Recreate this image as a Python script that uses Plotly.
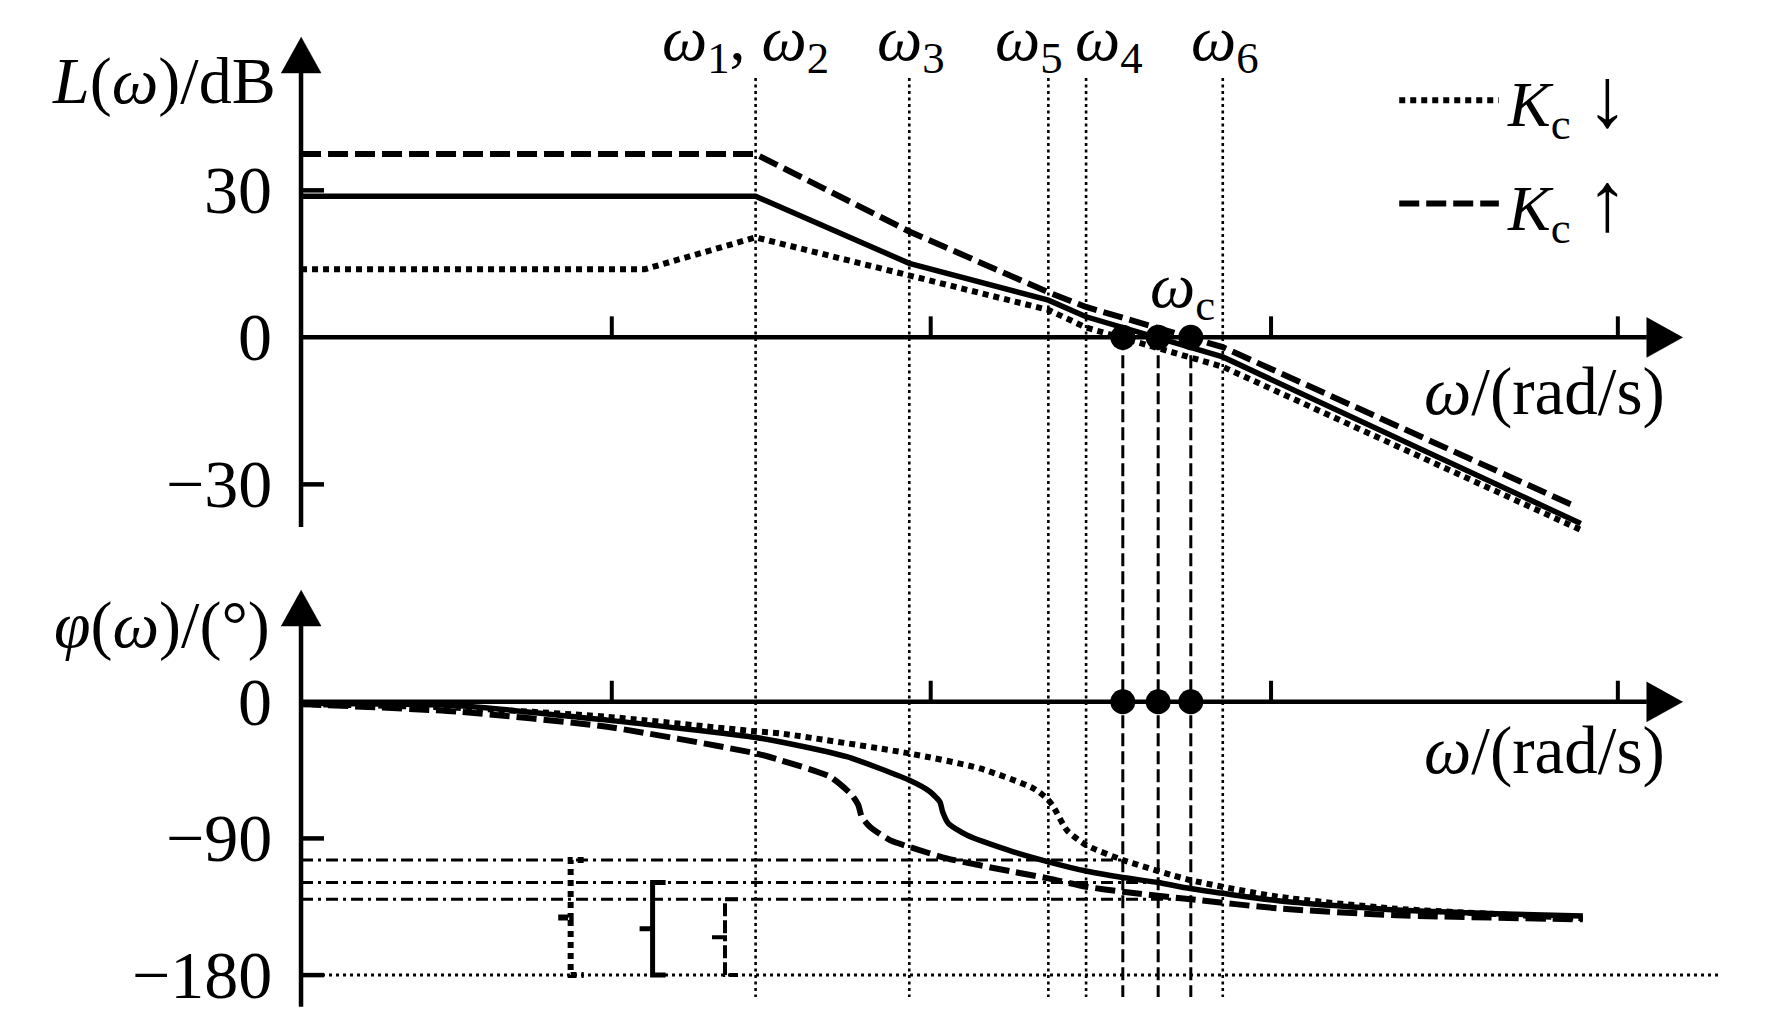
import plotly.graph_objects as go

# ======================= DATA =======================
# horizontal position = log10(omega) (0 <-> 1 rad/s)
x_ticks = [-0.938, 0.0, 1.001, 2.021]

omega_break_labels = ["<i>ω</i><sub>1</sub>, <i>ω</i><sub>2</sub>", "<i>ω</i><sub>3</sub>",
                      "<i>ω</i><sub>5</sub>", "<i>ω</i><sub>4</sub>", "<i>ω</i><sub>6</sub>"]
omega_breaks = [-0.515, -0.063, 0.346, 0.457, 0.859]
omega_c = [0.565, 0.669, 0.765]          # crossover: Kc down, nominal, Kc up

# magnitude asymptotes L(omega) in dB
mag_x_nominal = [-1.852, -0.515, -0.063, 0.346, 0.457, 0.859, 1.912]
mag_nominal = [28.8, 28.8, 15.1, 7.6, 4.2, -4.0, -38.0]
mag_x_up = [-1.852, -0.515, -0.063, 0.346, 0.457, 0.859, 1.887]
mag_kc_up = [37.4, 37.4, 21.6, 9.2, 6.2, -2.0, -34.2]
mag_x_down = [-1.852, -0.841, -0.515, -0.063, 0.346, 0.457, 0.859, 1.912]
mag_kc_down = [13.9, 13.9, 20.4, 12.7, 5.6, 2.0, -6.0, -39.3]

# phase curves phi(omega) in degrees
ph_x_nominal = [-1.852, -1.389, -0.952, -0.515, -0.444, -0.247, -0.064, -0.002, 0.027, 0.035, 0.052,
                0.106, 0.243, 0.346, 0.457, 0.565, 0.669, 0.763, 1.022, 1.357, 1.692, 1.918]
ph_nominal = [-1.0, -2.6, -12.1, -23.5, -26.3, -36.2, -51.6, -59.3, -65.9, -72.4, -80.1,
              -87.8, -98.8, -105.4, -111.5, -115.8, -119.0, -123.0, -131.0, -137.0, -139.8, -141.1]
ph_x_down = [-1.852, -1.389, -0.952, -0.515, -0.444, -0.064, 0.145, 0.302, 0.341, 0.361,
             0.400, 0.457, 0.565, 0.763, 1.022, 1.357, 1.918]
ph_kc_down = [-1.5, -4.0, -9.9, -19.5, -20.8, -34.0, -43.9, -57.0, -63.6, -69.1,
              -84.5, -94.4, -104.2, -117.4, -128.4, -136.1, -142.5]
ph_x_up = [-1.852, -1.389, -0.952, -0.515, -0.444, -0.296, -0.232, -0.213, -0.203, -0.179,
           -0.120, -0.064, 0.047, 0.243, 0.346, 0.457, 0.565, 0.765, 1.022, 1.357, 1.918]
ph_kc_up = [-1.5, -6.6, -16.5, -34.0, -38.4, -49.4, -61.4, -68.0, -75.7, -82.3,
            -91.1, -95.5, -103.1, -112.0, -116.3, -121.8, -125.1, -130.1, -136.1, -140.5, -143.3]

phase_at_wc = [-104.2, -119.0, -130.1]   # Kc down, nominal, Kc up
margin_bracket_x = [-1.059, -0.818, -0.605]
phase_limit = -180
phase_limit_end = 2.318

mag_tick_vals = [30, -30]
mag_label_vals = [30, 0, -30]
mag_label_text = ["30", "0", "−30"]
ph_tick_vals = [-90, -180]
ph_label_vals = [0, -90, -180]
ph_label_text = ["0", "−90", "−180"]

# ======================= LAYOUT CONSTANTS =======================
W, H = 1772, 1017
X_RANGE = [-2.7374, 2.4744]
MAG_RANGE = [-138.69, 68.84]
PH_RANGE = [-207.6, 462.1]
UX = (X_RANGE[1] - X_RANGE[0]) / W
UL = (MAG_RANGE[1] - MAG_RANGE[0]) / H
UP = (PH_RANGE[1] - PH_RANGE[0]) / H

AX_X = -1.852          # vertical axes position
X_END = 2.212          # arrow tip of horizontal axes
MAG_AX = [-38.7, 61.3]
PH_AX = [-200.8, 73.6]
VLINE_TOP, VLINE_BOT = 52.9, -134.6
ARROW_LEN, ARROW_HALF = 36, 20
FONT = "Liberation Serif"
K = "black"

fig = go.Figure()


def add_line(x, y, yaxis="y", width=3.0, dash="solid", shape="linear"):
    fig.add_trace(go.Scatter(x=x, y=y, mode="lines", yaxis=yaxis, hoverinfo="skip",
                             line=dict(color=K, width=width, dash=dash, shape=shape,
                                       smoothing=0.6 if shape == "spline" else None)))


def add_poly(x, y, yaxis="y"):
    fig.add_trace(go.Scatter(x=x, y=y, mode="lines", yaxis=yaxis, fill="toself",
                             fillcolor=K, line=dict(color=K, width=0.5), hoverinfo="skip"))


def axes(yaxis, ay_range, uy):
    add_line([AX_X, AX_X], [ay_range[0], ay_range[1] - ARROW_LEN * uy], yaxis, 4.5)
    add_poly([AX_X - ARROW_HALF * UX, AX_X + ARROW_HALF * UX, AX_X],
             [ay_range[1] - ARROW_LEN * uy, ay_range[1] - ARROW_LEN * uy, ay_range[1]], yaxis)
    add_line([AX_X, X_END - ARROW_LEN * UX], [0, 0], yaxis, 4.5)
    add_poly([X_END - ARROW_LEN * UX, X_END - ARROW_LEN * UX, X_END],
             [ARROW_HALF * uy, -ARROW_HALF * uy, 0], yaxis)
    for t in x_ticks:
        add_line([t, t], [0, 21 * uy], yaxis, 4)


axes("y", MAG_AX, UL)
axes("y2", PH_AX, UP)
for v in mag_tick_vals:
    add_line([AX_X, AX_X + 23 * UX], [v, v], "y", 4.5)
for v in ph_tick_vals:
    add_line([AX_X, AX_X + 23 * UX], [v, v], "y2", 4.5)

# reference lines
for xb in omega_breaks:
    add_line([xb, xb], [VLINE_TOP, VLINE_BOT], "y", 2.6, "3px,3.5px")
for xc in omega_c:
    add_line([xc, xc], [0, VLINE_BOT], "y", 3, "13px,5px")
for xc, pv in zip(omega_c, phase_at_wc):
    add_line([AX_X, xc], [pv, pv], "y2", 3, "12px,5px,3px,5px")
add_line([AX_X, phase_limit_end], [phase_limit, phase_limit], "y2", 3, "3px,4px")

# phase-margin braces
brace_styles = [dict(width=6, dash="6px,5px"), dict(width=5, dash="solid"), dict(width=4, dash="13px,4px")]
hook = 13 * UX
for bx, pv, st in zip(margin_bracket_x, phase_at_wc, brace_styles):
    mid = (pv + phase_limit) / 2
    add_line([bx + hook, bx, bx, bx - hook, bx, bx, bx + hook],
             [pv, pv, mid, mid, mid, phase_limit, phase_limit], "y2", st["width"], st["dash"])

# magnitude curves
DOT = "6px,5px"
DASH = "20px,7px"
add_line(mag_x_down, mag_kc_down, "y", 6, DOT)
add_line(mag_x_up, mag_kc_up, "y", 6, DASH)
add_line(mag_x_nominal, mag_nominal, "y", 5.5)

# phase curves
add_line(ph_x_down, ph_kc_down, "y2", 6, DOT, "spline")
add_line(ph_x_up, ph_kc_up, "y2", 6, DASH, "spline")
add_line(ph_x_nominal, ph_nominal, "y2", 5.5, "solid", "spline")

# crossover dots
for ya in ["y", "y2"]:
    fig.add_trace(go.Scatter(x=omega_c, y=[0] * len(omega_c), mode="markers", yaxis=ya,
                             marker=dict(size=25, color=K, line=dict(width=0)), hoverinfo="skip"))

# legend samples
LEG_X = [1.378, 1.671]
add_line(LEG_X, [48.4, 48.4], "y", 6, DOT)
add_line(LEG_X, [27.3, 27.3], "y", 6, DASH)

ann = []


def text(x, y, s, yref="y", xanchor="center", xshift=0, size=68, yanchor="middle"):
    ann.append(dict(x=x, y=y, xref="x", yref=yref, text=s, showarrow=False,
                    xanchor=xanchor, yanchor=yanchor, xshift=xshift,
                    font=dict(family=FONT, size=size, color=K)))


for v, s in zip(mag_label_vals, mag_label_text):
    text(AX_X, v, s, "y", "right", -27, 68)
for v, s in zip(ph_label_vals, ph_label_text):
    text(AX_X, v, s, "y2", "right", -27, 68)

label_shift = [-10, 2, -19, 23, 2]
for xb, s, sh in zip(omega_breaks, omega_break_labels, label_shift):
    text(xb, 68.6, s, "y", "center", sh, 64, "top")

text(0.742, 9.6, "<i>ω</i><sub>c</sub>", "y", "center", 0, 64)
text(-1.920, 52.3, "<i>L</i>(<i>ω</i>)/dB", "y", "right", 0, 66)
text(-1.936, 50.7, "<i>φ</i>(<i>ω</i>)/(°)", "y2", "right", 0, 66)
text(2.166, -11.0, "<i>ω</i>/(rad/s)", "y", "right", 0, 67)
text(2.166, -32.0, "<i>ω</i>/(rad/s)", "y2", "right", 0, 67)
text(1.689, 48.4, "<i>K</i><sub>c</sub> <span style='font-size:84px'>↓</span>", "y", "left", 0, 64)
text(1.689, 27.3, "<i>K</i><sub>c</sub> <span style='font-size:84px'>↑</span>", "y", "left", 0, 64)

fig.update_layout(
    width=W, height=H, margin=dict(l=0, r=0, t=0, b=0),
    paper_bgcolor="white", plot_bgcolor="white", showlegend=False,
    xaxis=dict(range=X_RANGE, visible=False, fixedrange=True),
    yaxis=dict(range=MAG_RANGE, visible=False, fixedrange=True),
    yaxis2=dict(range=PH_RANGE, visible=False, overlaying="y", fixedrange=True),
    annotations=ann,
)

fig.write_html("out.html", config={"displayModeBar": False},
               post_script="document.body.style.margin='0';")
